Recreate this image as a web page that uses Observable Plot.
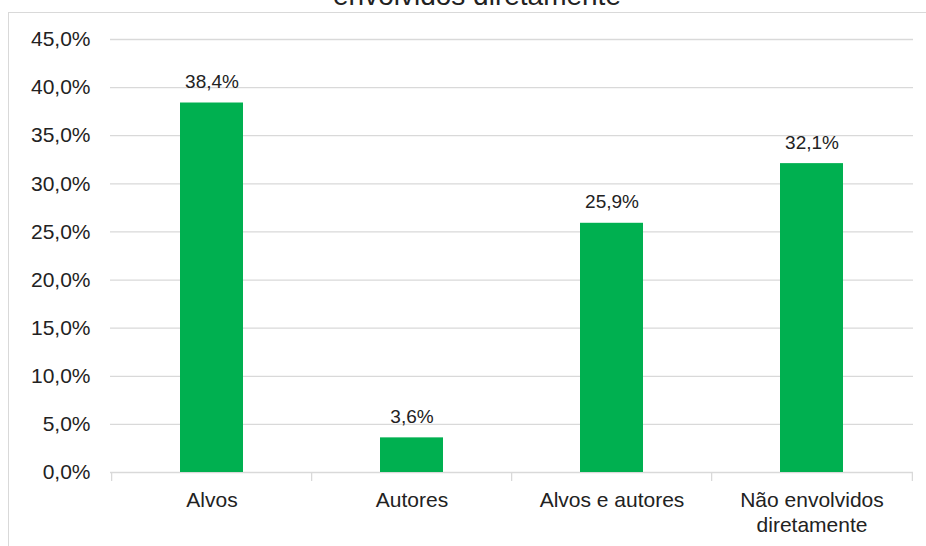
<!DOCTYPE html>
<html>
<head>
<meta charset="utf-8">
<script src="https://cdn.jsdelivr.net/npm/d3@7"></script>
<script src="https://cdn.jsdelivr.net/npm/@observablehq/plot@0.6"></script>
<style>
  html, body { margin: 0; padding: 0; background: #fff; overflow: hidden; }
  #wrap { position: relative; width: 926px; height: 546px; overflow: hidden; font-family: "Liberation Sans", Arial, sans-serif; }
  #border { position: absolute; left: 8px; top: 12px; width: 1000px; height: 1000px; border: 1.5px solid #d9d9d9; box-sizing: border-box; }
  #title { position: absolute; left: 0; width: 954px; top: -18px; text-align: center; font-size: 28px; line-height: 28px; color: #222; }
  #chart { position: absolute; left: 0; top: 0; }
</style>
</head>
<body>
<div id="wrap">
  <div id="border"></div>
  <div id="title">envolvidos diretamente</div>
  <div id="chart"></div>
</div>
<script>
const categories = ["Alvos", "Autores", "Alvos e autores", "Não envolvidos diretamente"];
const values = [38.4, 3.6, 25.9, 32.1];
const yTicks = [0, 5, 10, 15, 20, 25, 30, 35, 40, 45];

const data = categories.map((c, i) => ({category: c, value: values[i]}));
const fmt = v => v.toFixed(1).replace(".", ",") + "%";
const step = (913 - 110) / categories.length;

const plot = Plot.plot({
  width: 926,
  height: 546,
  marginLeft: 110,
  marginRight: 13,
  marginTop: 39,
  marginBottom: 74,
  style: {fontFamily: "'Liberation Sans', Arial, sans-serif", background: "transparent", overflow: "visible"},
  x: {domain: categories, paddingInner: 0.686, paddingOuter: 0.343, label: null},
  y: {domain: [0, 45], label: null},
  marks: [
    Plot.ruleY(yTicks, {stroke: "#d9d9d9", strokeWidth: 1.3}),
    Plot.ruleX(categories, {x: d => d, dx: -step / 2, y1: 0, y2: 0, insetBottom: -9, stroke: "#d9d9d9", strokeWidth: 1.3}),
    Plot.ruleX(categories.slice(-1), {x: d => d, dx: step / 2, y1: 0, y2: 0, insetBottom: -9, stroke: "#d9d9d9", strokeWidth: 1.3}),
    Plot.barY(data, {x: "category", y: "value", fill: "#00B050"}),
    Plot.text(data, {x: "category", y: "value", text: d => fmt(d.value), lineAnchor: "bottom", dy: -15, fontSize: 19, fill: "#222"}),
    Plot.axisY({ticks: yTicks, tickFormat: d => fmt(d), tickSize: 0, tickPadding: 20, fontSize: 21, fill: "#222"}),
    Plot.axisX({tickSize: 0, tickPadding: 17, fontSize: 21, fill: "#222", lineHeight: 1.19,
      tickFormat: d => d.replace(" diretamente", "\ndiretamente")})
  ]
});
document.getElementById("chart").appendChild(plot);
</script>
</body>
</html>
